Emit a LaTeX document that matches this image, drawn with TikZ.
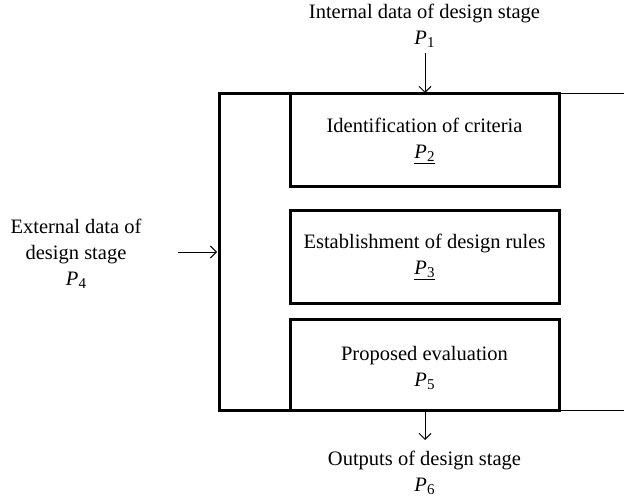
\documentclass[tikz,border=0pt]{standalone}
\usepackage{fontspec}
\setmainfont{Liberation Serif}
\usetikzlibrary{arrows.meta}
\newcommand\pv[1]{\textit{P}\raisebox{-0.3ex}{\fontsize{15}{15}\selectfont #1}}
\tikzset{
  procbox/.style={draw, line width=3pt},
  lbl/.style={align=center, font=\fontsize{20.5}{26}\selectfont, inner sep=0pt},
  arr/.style={line width=0.9pt, -{Straight Barb[length=6pt,width=12pt]}}
}
\begin{document}
\begin{tikzpicture}[x=1pt,y=-1pt]
\useasboundingbox (0,0) rectangle (624,500);
% outer frame
\coordinate (otr) at (624,94);
\coordinate (obr) at (624,410);
\draw[line width=3pt] (290,94) -- (219,94) -- (219,410) -- (290,410);
\draw[line width=1pt] (559,94) -- (otr);
\draw[line width=1pt] (559,410) -- (obr);
% inner boxes
\draw[procbox] (290,94) rectangle (559,186);
\draw[procbox] (290,210) rectangle (559,303);
\draw[procbox] (290,319) rectangle (559,410);
\node[lbl] (b1) at (424.5,141) {Identification of criteria\\\underline{\pv{2}}};
\node[lbl] (b2) at (424.5,257) {Establishment of design rules\\\underline{\pv{3}}};
\node[lbl] (b3) at (424.5,368) {Proposed evaluation\\\pv{5}};
% top input
\node[lbl] (in) at (424.5,26) {Internal data of design stage\\\pv{1}};
\coordinate (inS) at (425,53);
\coordinate (inE) at (425,93);
\draw[arr] (inS) -- (inE);
% left input
\node[lbl] (ext) at (76,254) {External data of\\design stage\\\pv{4}};
\coordinate (exS) at (178,252);
\coordinate (exE) at (217,252);
\draw[arr] (exS) -- (exE);
% output
\coordinate (ouS) at (425,411);
\coordinate (ouE) at (425,440);
\draw[arr] (ouS) -- (ouE);
\node[lbl] (out) at (424.5,473) {Outputs of design stage\\\pv{6}};
\end{tikzpicture}
\end{document}
